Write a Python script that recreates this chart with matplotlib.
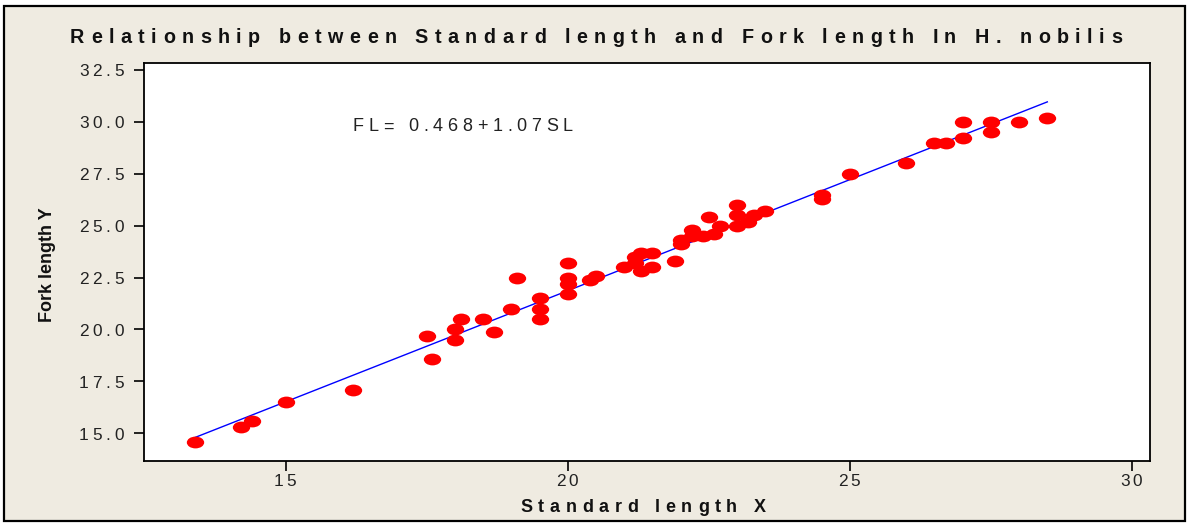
import numpy as np
import matplotlib
matplotlib.use("Agg")
import matplotlib.pyplot as plt
from matplotlib.path import Path
from matplotlib.transforms import Affine2D
from matplotlib.patches import Rectangle
from matplotlib.ft2font import FT2Font
from matplotlib.font_manager import FontProperties, findfont

# ---------------- data ----------------
standard_length = [13.4, 14.2, 14.4, 15.0, 16.2, 17.5, 17.6, 18.0, 18.0, 18.1,
                   18.5, 18.7, 19.0, 19.1, 19.5, 19.5, 19.5, 20.0, 20.0, 20.0,
                   20.0, 20.4, 20.5, 21.0, 21.2, 21.2, 21.3, 21.3, 21.5, 21.5,
                   21.9, 22.0, 22.0, 22.2, 22.2, 22.4, 22.5, 22.6, 22.7, 23.0,
                   23.0, 23.0, 23.2, 23.3, 23.5, 24.5, 24.5, 25.0, 26.0, 26.5,
                   26.7, 27.0, 27.0, 27.5, 27.5, 28.0, 28.5]
fork_length = [14.6, 15.3, 15.6, 16.5, 17.1, 19.7, 18.6, 20.0, 19.5, 20.5,
               20.5, 19.9, 21.0, 22.5, 21.5, 21.0, 20.5, 23.2, 22.5, 22.2,
               21.7, 22.4, 22.6, 23.0, 23.2, 23.5, 23.7, 22.8, 23.7, 23.0,
               23.3, 24.1, 24.3, 24.8, 24.5, 24.5, 25.4, 24.6, 25.0, 26.0,
               25.5, 25.0, 25.2, 25.5, 25.7, 26.5, 26.3, 27.5, 28.0, 29.0,
               29.0, 30.0, 29.2, 30.0, 29.5, 30.0, 30.2]
intercept = 0.468
slope = 1.07
x_ticks = [15, 20, 25, 30]
x_tick_labels = ["15", "20", "25", "30"]
y_ticks = [15.0, 17.5, 20.0, 22.5, 25.0, 27.5, 30.0, 32.5]
y_tick_labels = ["15.0", "17.5", "20.0", "22.5", "25.0", "27.5", "30.0", "32.5"]
title = "Relationship between Standard length and Fork length In H. nobilis"
x_label = "Standard length X"
y_label = "Fork length Y"
equation = "FL= 0.468+1.07SL"

# ---------------- figure ----------------
W, H, DPI = 1188, 524, 100
BG = "#EFEBE1"
fig = plt.figure(figsize=(W / DPI, H / DPI), dpi=DPI, facecolor="white")

# beige panel with black frame
fig.patches.append(Rectangle((4 / W, 1 - 521 / H), (1185 - 4) / W, (521 - 6) / H,
                             transform=fig.transFigure, facecolor=BG,
                             edgecolor="black", linewidth=1.6, zorder=-10))

ax_l, ax_r, ax_t, ax_b = 143.5, 1150, 62.7, 460.7
ax = fig.add_axes([ax_l / W, 1 - ax_b / H, (ax_r - ax_l) / W, (ax_b - ax_t) / H])
ax.set_zorder(1)
ax.set_facecolor("white")
ax.set_xlim(12.48, 30.32)
ax.set_ylim(13.68, 32.85)

for s in ax.spines.values():
    s.set_color("black")
    s.set_linewidth(1.3)

ax.set_xticks(x_ticks)
ax.set_yticks(y_ticks)
ax.tick_params(direction="out", length=7, width=1.2, color="black",
               labelbottom=False, labelleft=False)

# regression line
xs = np.array([min(standard_length), max(standard_length)])
ax.plot(xs, intercept + slope * xs, color="#0000FF", linewidth=1.0, zorder=2)

# ellipse markers
ell = Path.unit_circle().transformed(Affine2D().scale(1.0, 0.68))
ax.plot(standard_length, fork_length, linestyle="none", marker=ell,
        markersize=12.5, color="#FF0000", markeredgewidth=0, zorder=3)

# ---------------- letter-spaced text helper ----------------
def advances(s, family, weight, size):
    prop = FontProperties(family=family, weight=weight, size=size)
    f = FT2Font(findfont(prop))
    f.set_size(size, DPI)
    return [f.load_char(ord(c)).linearHoriAdvance / 65536.0 for c in s]


def spaced(s, x, y, gap=None, width=None, ha="center", family="Liberation Sans",
           weight="normal", size=10, color="black"):
    w = advances(s, family, weight, size)
    n = len(s)
    if width is not None:
        gap = (width - sum(w)) / (n - 1)
    total = sum(w) + gap * (n - 1)
    if ha == "center":
        x0 = x - total / 2
    elif ha == "right":
        x0 = x - total
    else:
        x0 = x
    cx = x0
    for c, wi in zip(s, w):
        if c != " ":
            fig.text((cx + wi / 2) / W, 1 - y / H, c, ha="center", va="baseline",
                     fontsize=size, family=family, weight=weight, color=color,
                     zorder=5)
        cx += wi + gap


fig.canvas.draw()

# title
spaced(title, 596, 43, width=1052, weight="bold", size=14.2, color="#111111")
# equation
spaced(equation, 353, 131.5, width=220, ha="left", size=13, color="#222222")
# x label
spaced(x_label, 643, 511.5, width=245, weight="bold", size=13, color="#111111")
# y label (normal spacing)
fig.text(47.5 / W, 1 - 265 / H, y_label, rotation=90, ha="center", va="center",
         fontsize=13, family="Liberation Sans", weight="bold", color="#111111")

# tick labels
for v, lab in zip(y_ticks, y_tick_labels):
    dy = ax.transData.transform((ax.get_xlim()[0], v))[1]
    ypx = H - dy
    spaced(lab, 124, ypx + 6.5, gap=3.8, ha="right", size=12.4, color="#222222")
for v, lab in zip(x_ticks, x_tick_labels):
    dx = ax.transData.transform((v, ax.get_ylim()[0]))[0]
    spaced(lab, dx - 1, 486, gap=2.5, ha="center", size=12.4, color="#222222")

fig.savefig("out.png", dpi=DPI, facecolor=fig.get_facecolor())
